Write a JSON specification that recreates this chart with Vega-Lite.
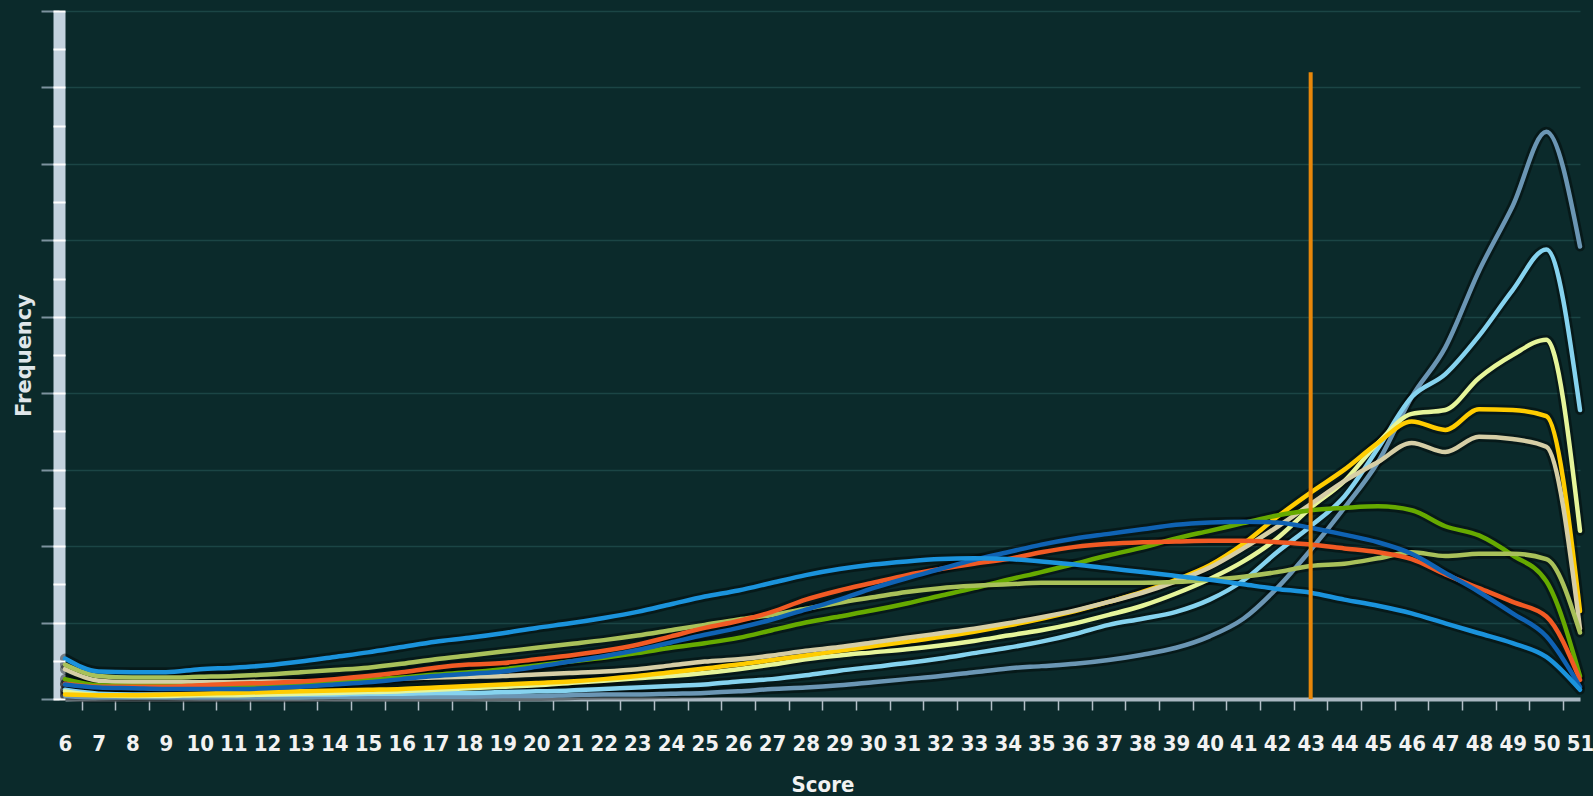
{
  "$schema": "https://vega.github.io/schema/vega-lite/v6.json",
  "width": 1515,
  "height": 688,
  "autosize": "none",
  "padding": {"left": 65, "top": 11, "right": 13, "bottom": 97},
  "background": "#0b2a2b",
  "config": {
    "view": {"stroke": null},
    "axis": {"labelFont": "DejaVu Sans Condensed, Liberation Sans Narrow, DejaVu Sans", "titleFont": "DejaVu Sans Condensed, Liberation Sans Narrow, DejaVu Sans"}
  },
  "data": {
    "values": [
      {"score": 6, "g1": 0.04, "g2": 0.12, "g3": 0.10, "g4": 0.06, "g5": 0.39, "g6": 0.26, "g7": 0.45, "g8": 0.20, "g9": 0.19, "g10": 0.53},
      {"score": 7, "g1": 0.02, "g2": 0.07, "g3": 0.05, "g4": 0.05, "g5": 0.24, "g6": 0.18, "g7": 0.30, "g8": 0.16, "g9": 0.15, "g10": 0.36},
      {"score": 8, "g1": 0.02, "g2": 0.06, "g3": 0.04, "g4": 0.05, "g5": 0.22, "g6": 0.17, "g7": 0.28, "g8": 0.16, "g9": 0.14, "g10": 0.35},
      {"score": 9, "g1": 0.02, "g2": 0.06, "g3": 0.04, "g4": 0.06, "g5": 0.22, "g6": 0.17, "g7": 0.28, "g8": 0.16, "g9": 0.13, "g10": 0.35},
      {"score": 10, "g1": 0.02, "g2": 0.06, "g3": 0.05, "g4": 0.07, "g5": 0.22, "g6": 0.17, "g7": 0.29, "g8": 0.18, "g9": 0.13, "g10": 0.39},
      {"score": 11, "g1": 0.02, "g2": 0.06, "g3": 0.05, "g4": 0.08, "g5": 0.22, "g6": 0.18, "g7": 0.30, "g8": 0.20, "g9": 0.13, "g10": 0.41},
      {"score": 12, "g1": 0.02, "g2": 0.06, "g3": 0.06, "g4": 0.09, "g5": 0.23, "g6": 0.19, "g7": 0.32, "g8": 0.21, "g9": 0.14, "g10": 0.44},
      {"score": 13, "g1": 0.02, "g2": 0.06, "g3": 0.07, "g4": 0.10, "g5": 0.23, "g6": 0.20, "g7": 0.35, "g8": 0.23, "g9": 0.16, "g10": 0.49},
      {"score": 14, "g1": 0.03, "g2": 0.06, "g3": 0.08, "g4": 0.11, "g5": 0.24, "g6": 0.22, "g7": 0.38, "g8": 0.26, "g9": 0.19, "g10": 0.55},
      {"score": 15, "g1": 0.03, "g2": 0.07, "g3": 0.09, "g4": 0.12, "g5": 0.25, "g6": 0.25, "g7": 0.41, "g8": 0.30, "g9": 0.22, "g10": 0.61},
      {"score": 16, "g1": 0.03, "g2": 0.07, "g3": 0.10, "g4": 0.13, "g5": 0.27, "g6": 0.28, "g7": 0.46, "g8": 0.35, "g9": 0.26, "g10": 0.68},
      {"score": 17, "g1": 0.03, "g2": 0.08, "g3": 0.12, "g4": 0.15, "g5": 0.28, "g6": 0.32, "g7": 0.52, "g8": 0.41, "g9": 0.30, "g10": 0.75},
      {"score": 18, "g1": 0.03, "g2": 0.08, "g3": 0.14, "g4": 0.17, "g5": 0.29, "g6": 0.35, "g7": 0.57, "g8": 0.45, "g9": 0.33, "g10": 0.80},
      {"score": 19, "g1": 0.04, "g2": 0.09, "g3": 0.16, "g4": 0.19, "g5": 0.30, "g6": 0.39, "g7": 0.62, "g8": 0.47, "g9": 0.36, "g10": 0.86},
      {"score": 20, "g1": 0.04, "g2": 0.10, "g3": 0.18, "g4": 0.21, "g5": 0.32, "g6": 0.44, "g7": 0.67, "g8": 0.52, "g9": 0.42, "g10": 0.93},
      {"score": 21, "g1": 0.05, "g2": 0.11, "g3": 0.21, "g4": 0.23, "g5": 0.34, "g6": 0.49, "g7": 0.72, "g8": 0.57, "g9": 0.49, "g10": 0.99},
      {"score": 22, "g1": 0.06, "g2": 0.13, "g3": 0.24, "g4": 0.26, "g5": 0.36, "g6": 0.54, "g7": 0.77, "g8": 0.63, "g9": 0.56, "g10": 1.06},
      {"score": 23, "g1": 0.06, "g2": 0.15, "g3": 0.27, "g4": 0.30, "g5": 0.39, "g6": 0.60, "g7": 0.83, "g8": 0.71, "g9": 0.64, "g10": 1.14},
      {"score": 24, "g1": 0.07, "g2": 0.17, "g3": 0.30, "g4": 0.35, "g5": 0.44, "g6": 0.67, "g7": 0.90, "g8": 0.82, "g9": 0.74, "g10": 1.24},
      {"score": 25, "g1": 0.08, "g2": 0.19, "g3": 0.34, "g4": 0.40, "g5": 0.49, "g6": 0.73, "g7": 0.97, "g8": 0.93, "g9": 0.84, "g10": 1.34},
      {"score": 26, "g1": 0.10, "g2": 0.23, "g3": 0.39, "g4": 0.45, "g5": 0.52, "g6": 0.80, "g7": 1.04, "g8": 1.02, "g9": 0.93, "g10": 1.42},
      {"score": 27, "g1": 0.13, "g2": 0.26, "g3": 0.45, "g4": 0.51, "g5": 0.57, "g6": 0.90, "g7": 1.10, "g8": 1.14, "g9": 1.04, "g10": 1.52},
      {"score": 28, "g1": 0.15, "g2": 0.31, "g3": 0.52, "g4": 0.57, "g5": 0.63, "g6": 1.00, "g7": 1.18, "g8": 1.30, "g9": 1.17, "g10": 1.62},
      {"score": 29, "g1": 0.18, "g2": 0.37, "g3": 0.57, "g4": 0.63, "g5": 0.68, "g6": 1.08, "g7": 1.26, "g8": 1.42, "g9": 1.30, "g10": 1.70},
      {"score": 30, "g1": 0.22, "g2": 0.42, "g3": 0.61, "g4": 0.69, "g5": 0.74, "g6": 1.16, "g7": 1.33, "g8": 1.52, "g9": 1.45, "g10": 1.76},
      {"score": 31, "g1": 0.26, "g2": 0.47, "g3": 0.65, "g4": 0.75, "g5": 0.80, "g6": 1.25, "g7": 1.40, "g8": 1.62, "g9": 1.58, "g10": 1.80},
      {"score": 32, "g1": 0.30, "g2": 0.53, "g3": 0.70, "g4": 0.81, "g5": 0.86, "g6": 1.35, "g7": 1.45, "g8": 1.70, "g9": 1.70, "g10": 1.83},
      {"score": 33, "g1": 0.35, "g2": 0.60, "g3": 0.76, "g4": 0.88, "g5": 0.92, "g6": 1.45, "g7": 1.48, "g8": 1.77, "g9": 1.82, "g10": 1.84},
      {"score": 34, "g1": 0.40, "g2": 0.67, "g3": 0.83, "g4": 0.96, "g5": 0.99, "g6": 1.56, "g7": 1.50, "g8": 1.83, "g9": 1.92, "g10": 1.83},
      {"score": 35, "g1": 0.43, "g2": 0.75, "g3": 0.90, "g4": 1.05, "g5": 1.07, "g6": 1.66, "g7": 1.52, "g8": 1.92, "g9": 2.02, "g10": 1.80},
      {"score": 36, "g1": 0.46, "g2": 0.85, "g3": 0.99, "g4": 1.15, "g5": 1.16, "g6": 1.77, "g7": 1.52, "g8": 1.99, "g9": 2.10, "g10": 1.76},
      {"score": 37, "g1": 0.51, "g2": 0.97, "g3": 1.10, "g4": 1.27, "g5": 1.27, "g6": 1.88, "g7": 1.52, "g8": 2.03, "g9": 2.16, "g10": 1.71},
      {"score": 38, "g1": 0.58, "g2": 1.05, "g3": 1.22, "g4": 1.40, "g5": 1.39, "g6": 1.98, "g7": 1.52, "g8": 2.05, "g9": 2.22, "g10": 1.66},
      {"score": 39, "g1": 0.67, "g2": 1.14, "g3": 1.38, "g4": 1.56, "g5": 1.54, "g6": 2.10, "g7": 1.53, "g8": 2.06, "g9": 2.28, "g10": 1.61},
      {"score": 40, "g1": 0.82, "g2": 1.30, "g3": 1.57, "g4": 1.75, "g5": 1.72, "g6": 2.20, "g7": 1.56, "g8": 2.07, "g9": 2.31, "g10": 1.56},
      {"score": 41, "g1": 1.05, "g2": 1.55, "g3": 1.80, "g4": 2.03, "g5": 1.97, "g6": 2.30, "g7": 1.60, "g8": 2.07, "g9": 2.32, "g10": 1.50},
      {"score": 42, "g1": 1.45, "g2": 1.92, "g3": 2.10, "g4": 2.38, "g5": 2.25, "g6": 2.40, "g7": 1.66, "g8": 2.05, "g9": 2.31, "g10": 1.44},
      {"score": 43, "g1": 1.95, "g2": 2.26, "g3": 2.50, "g4": 2.70, "g5": 2.55, "g6": 2.47, "g7": 1.74, "g8": 2.02, "g9": 2.24, "g10": 1.39},
      {"score": 44, "g1": 2.50, "g2": 2.65, "g3": 2.85, "g4": 3.00, "g5": 2.85, "g6": 2.50, "g7": 1.77, "g8": 1.97, "g9": 2.15, "g10": 1.30},
      {"score": 45, "g1": 3.10, "g2": 3.28, "g3": 3.35, "g4": 3.35, "g5": 3.10, "g6": 2.52, "g7": 1.84, "g8": 1.92, "g9": 2.05, "g10": 1.22},
      {"score": 46, "g1": 3.95, "g2": 3.95, "g3": 3.73, "g4": 3.63, "g5": 3.35, "g6": 2.47, "g7": 1.92, "g8": 1.83, "g9": 1.90, "g10": 1.12},
      {"score": 47, "g1": 4.60, "g2": 4.25, "g3": 3.78, "g4": 3.52, "g5": 3.23, "g6": 2.26, "g7": 1.87, "g8": 1.63, "g9": 1.65, "g10": 0.99},
      {"score": 48, "g1": 5.60, "g2": 4.75, "g3": 4.20, "g4": 3.79, "g5": 3.43, "g6": 2.14, "g7": 1.90, "g8": 1.45, "g9": 1.40, "g10": 0.86},
      {"score": 49, "g1": 6.45, "g2": 5.35, "g3": 4.50, "g4": 3.78, "g5": 3.40, "g6": 1.88, "g7": 1.90, "g8": 1.27, "g9": 1.12, "g10": 0.73},
      {"score": 50, "g1": 7.42, "g2": 5.88, "g3": 4.70, "g4": 3.70, "g5": 3.30, "g6": 1.54, "g7": 1.83, "g8": 1.08, "g9": 0.82, "g10": 0.55},
      {"score": 51, "g1": 5.92, "g2": 3.78, "g3": 2.20, "g4": 1.15, "g5": 0.92, "g6": 0.30, "g7": 0.87, "g8": 0.25, "g9": 0.16, "g10": 0.12}
    ]
  },
  "encoding": {
    "x": {
      "field": "score",
      "type": "quantitative",
      "scale": {"domain": [6, 51], "nice": false, "zero": false},
      "axis": {
        "values": [6, 7, 8, 9, 10, 11, 12, 13, 14, 15, 16, 17, 18, 19, 20, 21, 22, 23, 24, 25, 26, 27, 28, 29, 30, 31, 32, 33, 34, 35, 36, 37, 38, 39, 40, 41, 42, 43, 44, 45, 46, 47, 48, 49, 50, 51],
        "format": "d",
        "grid": false,
        "tickOffset": 16.8,
        "labelOffset": -16.8,
        "domainColor": "#a9b7c1",
        "domainWidth": 4,
        "tickColor": "#b4c0c8",
        "tickWidth": 1.5,
        "tickSize": 11,
        "labelFontWeight": "bold",
        "labelFontSize": 22,
        "labelColor": "#f2f2f2",
        "labelPadding": 23,
        "labelFlush": false,
        "labelOverlap": false,
        "title": "Score",
        "titleFontWeight": "bold",
        "titleFontSize": 22,
        "titleColor": "#f2f2f2",
        "titlePadding": 20
      }
    },
    "y": {
      "field": "f",
      "type": "quantitative",
      "scale": {"domain": [0, 9], "nice": false},
      "axis": {
        "orient": "left",
        "offset": 6,
        "values": [0, 1, 2, 3, 4, 5, 6, 7, 8, 9],
        "grid": true,
        "gridColor": "#1b4545",
        "gridWidth": 1.5,
        "domainColor": "#c3d2de",
        "domainWidth": 12,
        "tickColor": "#7d929e",
        "tickWidth": 2,
        "tickSize": 18,
        "labels": false,
        "title": "Frequency",
        "titleFont": "DejaVu Sans",
        "titleFontWeight": "bold",
        "titleFontSize": 21,
        "titleColor": "#e0e6ea",
        "titlePadding": 6
      }
    }
  },
  "layer": [
    {
      "transform": [{"fold": ["g1", "g2", "g3", "g4", "g5", "g6", "g7", "g8", "g9", "g10"], "as": ["group", "f"]}],
      "mark": {"type": "line", "interpolate": "monotone", "color": "#000000", "opacity": 0.4, "strokeWidth": 10, "strokeCap": "round"},
      "encoding": {"detail": {"field": "group"}}
    },
    {
      "transform": [{"fold": ["g1", "g2", "g3", "g4", "g5", "g6", "g7", "g8", "g9", "g10"], "as": ["group", "f"]}],
      "mark": {"type": "line", "interpolate": "monotone", "strokeWidth": 4.5, "strokeCap": "round"},
      "encoding": {
        "y": {"field": "f", "type": "quantitative", "axis": null},
        "color": {
          "field": "group",
          "type": "nominal",
          "legend": null,
          "scale": {
            "domain": ["g1", "g2", "g3", "g4", "g5", "g6", "g7", "g8", "g9", "g10"],
            "range": ["#6b96b4", "#86d3ef", "#e6f59a", "#ffcc00", "#d6cea6", "#66aa00", "#a9c15a", "#f15a24", "#0f62b3", "#1b93dc"]
          }
        }
      }
    },
    {
      "data": {"values": [{"score": 43, "f": 0, "top": 8.2}]},
      "mark": {"type": "rule", "color": "#e8870a", "strokeWidth": 4},
      "encoding": {
        "y": {
          "field": "f",
          "type": "quantitative",
          "axis": {
            "orient": "left",
            "offset": 0,
            "values": [0, 0.5, 1, 1.5, 2, 2.5, 3, 3.5, 4, 4.5, 5, 5.5, 6, 6.5, 7, 7.5, 8, 8.5, 9],
            "grid": false,
            "domain": false,
            "tickColor": "#ffffff",
            "tickWidth": 2,
            "tickSize": 12,
            "labels": false,
            "title": null,
            "zindex": 1
          }
        },
        "y2": {"field": "top"}
      }
    }
  ],
  "resolve": {"axis": {"y": "independent"}}
}
